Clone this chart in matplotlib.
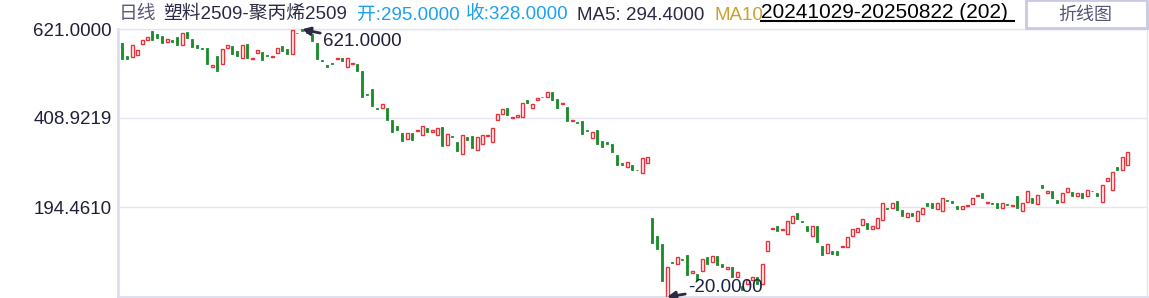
import numpy as np
import matplotlib.pyplot as plt
from matplotlib.patches import Rectangle

plt.rcParams['font.family'] = ['Liberation Sans', 'Noto Sans CJK SC']

# daily candles 20241029 - 20250822, open / close
start_date = '20241029'
end_date = '20250822'
opens = [589, 557, 554, 559, 585, 595, 617, 609, 605, 590, 596, 603, 584, 615, 598, 584, 577, 576, 530, 557,
         538, 576, 581, 569, 553, 585, 549, 564, 567, 560, 554, 565, 580, 574, 561, 613, 621, 618, 609, 587,
         548, 536, 541, 550, 553, 530, 539, 538, 522, 466, 479, 433, 432, 433, 405, 390, 373, 359, 373, 377,
         369, 385, 375, 367, 388, 344, 366, 350, 323, 362, 366, 332, 346, 365, 351, 403, 417, 433, 408, 410,
         412, 452, 432, 452, 460, 460, 471, 455, 441, 436, 401, 398, 402, 379, 360, 381, 354, 350, 347, 321,
         302, 292, 297, 285, 276, 300, 168, 125, 106, -20, 64, 59, 72, 80, 37, 36, 42, 75, 63, 79,
         58, 46, 53, 29, 6, 10, 20, 29, 10, 90, 142, 151, 141, 130, 158, 182, 161, 151, 126, 151,
         103, 85, 89, 89, 100, 99, 126, 135, 152, 158, 142, 145, 164, 192, 193, 211, 189, 171, 182, 161,
         178, 204, 204, 190, 185, 213, 211, 197, 190, 198, 202, 222, 230, 205, 204, 204, 194, 202, 198, 221,
         187, 207, 216, 202, 247, 228, 235, 213, 207, 232, 232, 221, 228, 221, 235, 228, 207, 257, 236, 292,
         283, 295]
closes = [551, 549, 584, 571, 595, 603, 596, 599, 589, 597, 591, 584, 612, 601, 579, 577, 575, 538, 536, 520,
          574, 584, 563, 557, 584, 552, 553, 572, 548, 558, 556, 577, 568, 561, 620, 611, 617, 612, 593, 551,
          545, 530, 539, 553, 544, 553, 541, 522, 460, 464, 438, 429, 443, 403, 374, 379, 353, 373, 357, 379,
          390, 374, 381, 385, 341, 371, 362, 329, 368, 355, 336, 363, 369, 367, 385, 419, 431, 415, 412, 416,
          445, 445, 443, 457, 458, 471, 452, 433, 445, 402, 403, 396, 371, 377, 376, 347, 340, 347, 328, 295,
          297, 304, 283, 283, 314, 316, 109, 96, 18, 53, 61, 75, 68, 32, 42, 20, 70, 60, 77, 56,
          53, 51, 29, 41, -4, 20, 27, 10, 60, 113, 146, 137, 143, 161, 175, 166, 159, 138, 151, 111,
          80, 106, 84, 80, 102, 123, 142, 146, 166, 142, 149, 168, 204, 190, 204, 188, 173, 182, 175, 187,
          192, 199, 192, 204, 216, 211, 204, 190, 199, 200, 216, 224, 216, 207, 202, 194, 204, 200, 200, 192,
          204, 235, 204, 225, 242, 233, 218, 204, 228, 242, 223, 228, 218, 237, 233, 221, 247, 266, 280, 283,
          316, 328]
y_ticks = [621.0, 408.9219, 194.4610]
y_min, y_max = -20.0, 621.0
ma5 = 294.4

red = '#e8323c'
green = '#1a8c2a'
navy = '#1f1f38'
lav = '#dedeee'

W, H = 1149, 298
fig = plt.figure(figsize=(W / 100, H / 100), dpi=100)
ax = fig.add_axes([117.5 / W, 1 / H, 1029 / W, 267.7 / H])

x = np.arange(len(opens))
o = np.array(opens, dtype=float)
c = np.array(closes, dtype=float)
up = c >= o
ax.bar(x[up], (c - o)[up], bottom=o[up], width=0.6, facecolor='white', edgecolor=red, linewidth=1.0, zorder=3)
ax.bar(x[~up], (o - c)[~up], bottom=c[~up], width=0.55, color=green, edgecolor=green, linewidth=0.6, zorder=3)

ax.set_xlim(-0.9, 204.9)
ax.set_ylim(y_min, y_max)
ax.set_xticks([])
ax.set_yticks(y_ticks)
ax.set_yticklabels(['%.4f' % t for t in y_ticks], fontsize=13.5, color=navy)
ax.tick_params(axis='y', length=0, pad=4)
ax.grid(axis='y', color='#e6e6f2', linewidth=1, zorder=0)
for s in ['left', 'bottom']:
    ax.spines[s].set_color(lav)
    ax.spines[s].set_linewidth(2)
for s in ['top', 'right']:
    ax.spines[s].set_color('#e4e4f0')
    ax.spines[s].set_linewidth(1)

# max / min markers
hi = int(np.argmax(np.maximum(o, c)))
lo = int(np.argmin(np.minimum(o, c)))
arrow = dict(arrowstyle='-|>', color='#2a2a44', lw=2, mutation_scale=12, shrinkA=0, shrinkB=0)
ax.annotate('%.4f' % y_max, xy=(hi, y_max), xytext=(21, -17), textcoords='offset pixels',
            fontsize=13.5, color=navy, va='baseline', arrowprops=arrow, annotation_clip=False, zorder=5)
ax.annotate('%.4f' % y_min, xy=(lo, y_min), xytext=(21, 5), textcoords='offset pixels',
            fontsize=13.5, color='#1c2244', va='baseline', arrowprops=arrow, annotation_clip=False, zorder=5)

# header
def ftext(px, py, s, **kw):
    fig.text(px / W, 1 - py / H, s, va='baseline', ha='left', **kw)

ftext(119, 19.5, '日线', fontsize=13.5, color='#5a5a78')
ftext(163, 19.5, '塑料2509-聚丙烯2509', fontsize=13.5, color='#2a2a44')
ftext(357, 19.5, '开:%.4f' % opens[-1], fontsize=13.5, color='#1ba1ef')
ftext(466, 19.5, '收:%.4f' % closes[-1], fontsize=13.5, color='#1ba1ef')
ftext(577, 19.5, 'MA5: %.4f' % ma5, fontsize=13.5, color='#2a2a44')
ftext(715, 19.5, 'MA10', fontsize=13.5, color='#c8a030')
ftext(761, 17.5, '%s-%s (%d)' % (start_date, end_date, len(opens)), fontsize=15, color='black')
fig.add_artist(plt.Line2D([761 / W, 1014 / W], [1 - 21.3 / H, 1 - 21.3 / H], color='black', lw=1.5))

fig.patches.append(Rectangle((1025.5 / W, 1 - 28.3 / H), 121 / W, 28 / H, transform=fig.transFigure,
                             facecolor='white', edgecolor='#c9c9e3', lw=2))
fig.text(1085 / W, 1 - 15 / H, '折线图', ha='center', va='center', fontsize=13, color='#555577')

fig.savefig('out.png', dpi=100, facecolor='white')
